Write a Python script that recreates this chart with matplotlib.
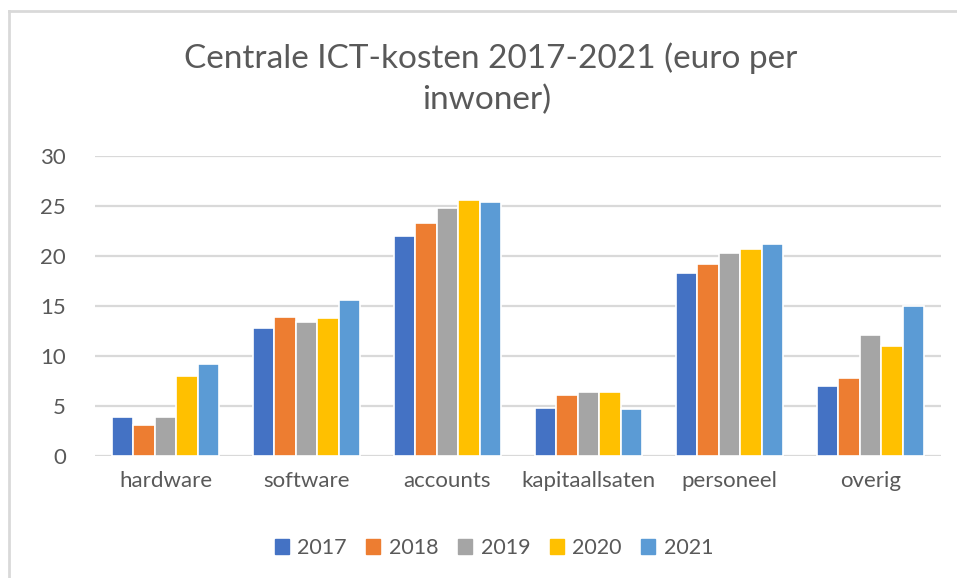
import matplotlib
matplotlib.use("Agg")
import matplotlib.pyplot as plt
import numpy as np
from matplotlib.patches import Rectangle
from matplotlib.lines import Line2D

categories = ["hardware", "software", "accounts", "kapitaallsaten", "personeel", "overig"]
years = ["2017", "2018", "2019", "2020", "2021"]
v2017 = [3.9, 12.8, 22.0, 4.8, 18.3, 7.0]
v2018 = [3.1, 13.9, 23.3, 6.1, 19.2, 7.8]
v2019 = [3.9, 13.4, 24.8, 6.4, 20.3, 12.1]
v2020 = [8.0, 13.8, 25.6, 6.4, 20.7, 11.0]
v2021 = [9.2, 15.6, 25.4, 4.7, 21.2, 15.0]
series = [v2017, v2018, v2019, v2020, v2021]
colors = ["#4472C4", "#ED7D31", "#A5A5A5", "#FFC000", "#5B9BD5"]
yticks = [0, 5, 10, 15, 20, 25, 30]

plt.rcParams['font.family'] = ['Lato', 'DejaVu Sans']
txt = "#595959"

fig = plt.figure(figsize=(9.57, 5.78), dpi=100)
# chart border (left and top visible)
fig.add_artist(Line2D([9/957, 9/957], [0, 1-11/578], transform=fig.transFigure, color="#D9D9D9", lw=2))
fig.add_artist(Line2D([9/957, 1], [1-11/578, 1-11/578], transform=fig.transFigure, color="#D9D9D9", lw=2))

ax = fig.add_axes([95/957, 1-456/578, (941-95)/957, 300/578])
x = np.arange(len(categories))
w = 0.153
for i, (vals, c) in enumerate(zip(series, colors)):
    ax.bar(x + (i - 2) * w, vals, width=w, color=c, edgecolor="white", linewidth=1.2,
           label=years[i], zorder=3)

ax.set_xlim(-0.5, len(categories) - 0.5)
ax.set_ylim(0, 30)
ax.set_yticks(yticks)
ax.set_yticklabels([str(t) for t in yticks])
ax.set_xticks(x)
ax.set_xticklabels(categories)
ax.grid(axis="y", color="#D9D9D9", linewidth=1.6, zorder=0)
ax.set_axisbelow(True)
for s in ["top", "right", "left", "bottom"]:
    ax.spines[s].set_visible(False)
ax.tick_params(axis="both", length=0, labelsize=16, colors=txt)
ax.tick_params(axis="y", pad=21)
ax.tick_params(axis="x", pad=11)

fig.text(491/957, 1-58/578, "Centrale ICT-kosten 2017-2021 (euro per", ha="center", va="center",
         fontsize=24, color=txt)
fig.text(487/957, 1-100/578, "inwoner)", ha="center", va="center", fontsize=24, color=txt)

handles = [Rectangle((0, 0), 1, 1, color=c) for c in colors]
fig.legend(handles, years, loc="center", bbox_to_anchor=(494/957, 1-548/578), ncol=5,
           frameon=False, fontsize=15.5, labelcolor=txt, handlelength=0.65, handleheight=0.65,
           handletextpad=0.4, columnspacing=0.9)

fig.savefig("out.png", dpi=100)
